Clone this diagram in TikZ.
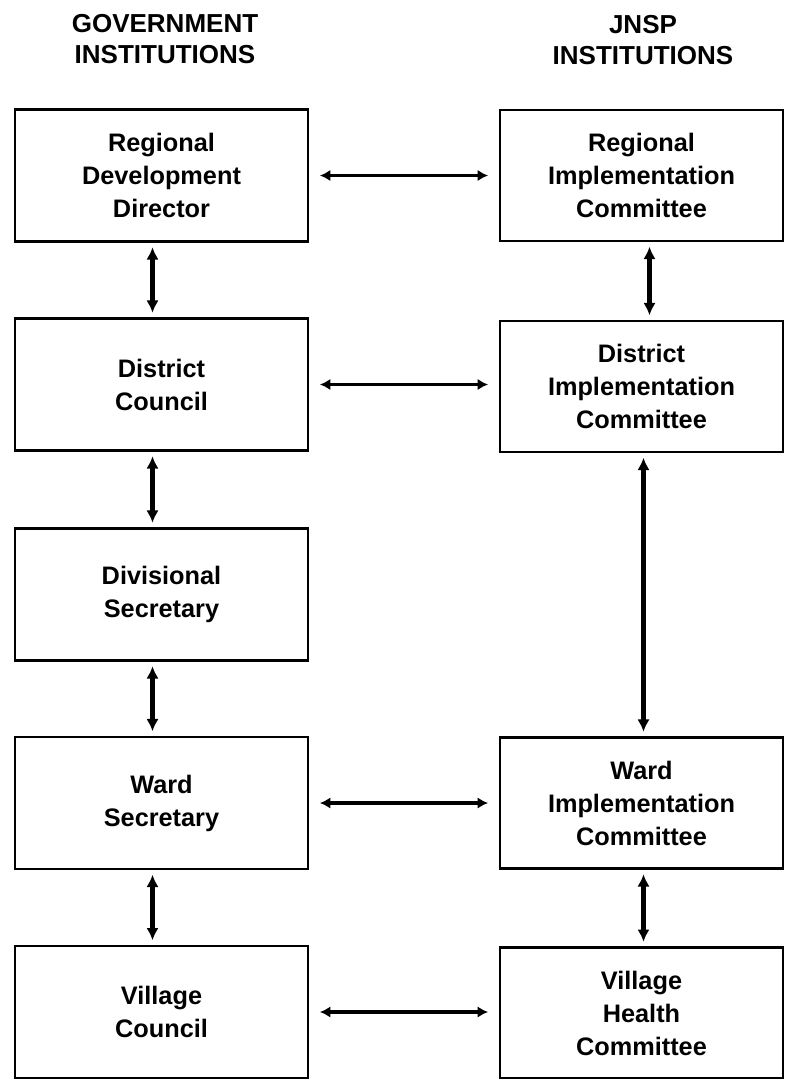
\documentclass[tikz,border=0pt]{standalone}
\usepackage{fontspec}
\setmainfont{Liberation Sans}
\usetikzlibrary{positioning,arrows.meta}
\tikzset{%
  inst/.style={draw, rectangle, line width=1.5pt, align=center, inner sep=0pt,
    font=\fontsize{14.4}{18.8}\selectfont\bfseries},
  gov/.style={inst, minimum width=5.86cm, minimum height=2.64cm},% government box
  jnsp/.style={inst, minimum width=5.66cm, minimum height=2.62cm},% jnsp box
  heading/.style={align=center, font=\fontsize{14.8}{17.6}\selectfont\bfseries},
  hlink/.style={line width=2pt, {Latex[length=6pt,width=6.5pt]}-{Latex[length=6pt,width=6.5pt]},
    shorten <=6pt, shorten >=6pt},% across
  vlink/.style={line width=2.3pt, {Latex[length=7pt,width=7pt]}-{Latex[length=7pt,width=7pt]},
    shorten <=2.5pt, shorten >=2.5pt}% down
}

\begin{document}
\begin{tikzpicture}
\useasboundingbox (0,0) rectangle (15.7,-21.58);

\node[heading] (govhead)  at (3.3, -0.78)   {GOVERNMENT\\INSTITUTIONS};
\node[heading] (jnsphead) at (12.86, -0.8)  {JNSP\\INSTITUTIONS};

\node[gov] (l1) at (3.23, -3.51)  {Regional\\Development\\Director};
\node[gov] (l2) at (3.23, -7.69)  {District\\Council};
\node[gov] (l3) at (3.23, -11.89) {Divisional\\Secretary};
\node[gov] (l4) at (3.23, -16.06) {Ward\\Secretary};
\node[gov] (l5) at (3.23, -20.24) {Village\\Council};

\node[jnsp] (r1) at (12.83, -3.51)  {Regional\\Implementation\\Committee};
\node[jnsp] (r2) at (12.83, -7.73)  {District\\Implementation\\Committee};
\node[jnsp] (r4) at (12.83, -16.06) {Ward\\Implementation\\Committee};
\node[jnsp] (r5) at (12.83, -20.26) {Village\\Health\\Committee};

\draw[hlink] (l1) -- (r1);
\draw[hlink] (l2.east) -- (l2.east -| r2.west);
\draw[hlink] (l4) -- (r4);
\draw[hlink] (l5.east) -- (l5.east -| r5.west);

\draw[vlink] ([xshift=-0.18cm]l1.south) -- ([xshift=-0.18cm]l2.north);
\draw[vlink] ([xshift=-0.18cm]l2.south) -- ([xshift=-0.18cm]l3.north);
\draw[vlink] ([xshift=-0.18cm]l3.south) -- ([xshift=-0.18cm]l4.north);
\draw[vlink] ([xshift=-0.18cm]l4.south) -- ([xshift=-0.18cm]l5.north);

\draw[vlink] ([xshift=0.16cm]r1.south) -- ([xshift=0.16cm]r2.north);
\draw[vlink] ([xshift=0.04cm]r2.south) -- ([xshift=0.04cm]r4.north);
\draw[vlink] ([xshift=0.04cm]r4.south) -- ([xshift=0.04cm]r5.north);

\end{tikzpicture}
\end{document}
